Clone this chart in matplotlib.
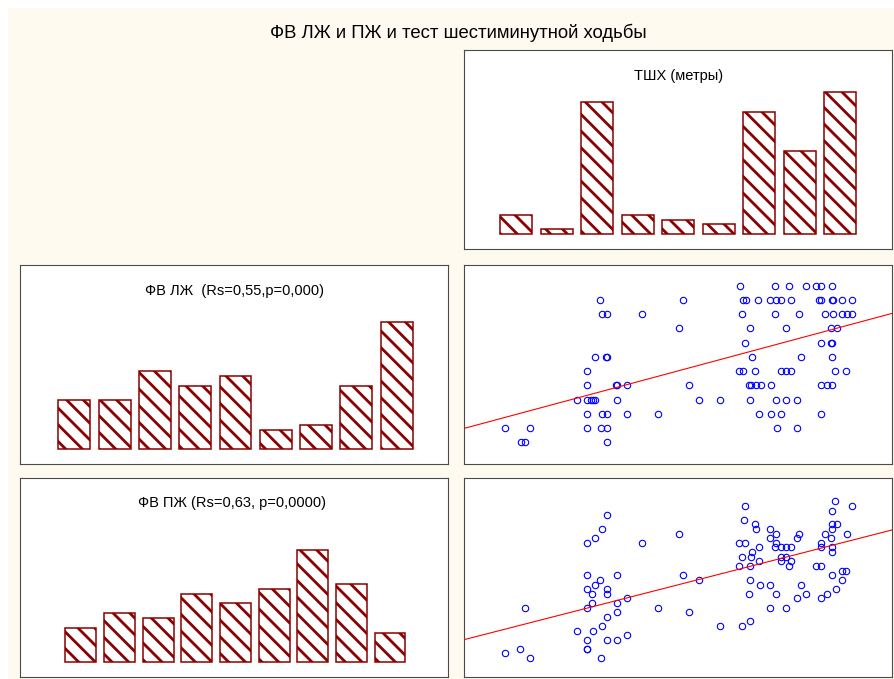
import matplotlib
matplotlib.use("Agg")
import matplotlib.pyplot as plt
import numpy as np
from matplotlib.patches import Rectangle

plt.rcParams['font.family'] = ['Liberation Sans', 'DejaVu Sans']
plt.rcParams['hatch.linewidth'] = 2.0

# histogram of the 6-minute walk test (metres), bin centres and counts
tshx_bins = [172, 213, 253, 294, 334, 375, 415, 456, 496]
tshx_counts = [4, 1, 27, 4, 3, 2, 25, 17, 29]

# histograms of LV / RV ejection fraction (counts per bin)
fv_lv_counts = [10, 10, 16, 13, 15, 4, 5, 13, 26]
fv_pv_counts = [7, 10, 9, 14, 12, 15, 23, 16, 6]

# scatter: 6MWT vs LV EF
tshx_lv = [396, 431, 445, 462, 472, 477, 488,
           256, 339, 399, 402, 414, 426, 432, 437, 447, 475, 477, 488, 489, 498, 508,
           258, 263, 298, 398, 431, 455, 481, 489, 498, 503, 508,
           335, 406, 442, 487, 493,
           401, 477, 487, 488,
           251, 262, 263, 408, 457, 488,
           243, 395, 399, 411, 437, 442, 447, 491, 502,
           243, 272, 273, 283, 345, 405, 407, 412, 417, 427, 477, 483, 488,
           233, 243, 247, 249, 251, 273, 355, 376, 406, 432, 442, 453,
           243, 258, 263, 283, 314, 415, 427, 437, 477,
           161, 186, 243, 257, 263, 433, 453,
           177, 181, 263]
fv_lv = [70, 70, 70, 70, 70, 70, 70,
         65, 65, 65, 65, 65, 65, 65, 65, 65, 65, 65, 65, 65, 65, 65,
         60, 60, 60, 60, 60, 60, 60, 60, 60, 60, 60,
         55, 55, 55, 55, 55,
         50, 50, 50, 50,
         45, 45, 45, 45, 45, 45,
         40, 40, 40, 40, 40, 40, 40, 40, 40,
         35, 35, 35, 35, 35, 35, 35, 35, 35, 35, 35, 35, 35,
         30, 30, 30, 30, 30, 30, 30, 30, 30, 30, 30, 30,
         25, 25, 25, 25, 25, 25, 25, 25, 25,
         20, 20, 20, 20, 20, 20, 20,
         15, 15, 15]
fit_lv = (0.0944, 8.57)  # slope, intercept

# scatter: 6MWT vs RV EF
tshx_pv = [263, 258, 251, 243, 298, 335, 401, 400, 411, 412, 426, 432, 426, 432,
           455, 453, 491, 488, 508, 488, 493, 488, 481, 503, 487, 477, 477, 488,
           488, 395, 401, 415, 431, 437, 442, 447, 398, 407, 408, 437, 442, 415,
           437, 447, 445, 395, 406, 472, 477, 243, 273, 256, 251, 243, 263, 248,
           263, 339, 355, 488, 498, 502, 498, 406, 416, 426, 457, 492, 405, 432,
           453, 462, 483, 477, 283, 273, 248, 243, 273, 263, 258, 249, 233, 283,
           263, 273, 243, 243, 243, 257, 181, 161, 176, 186, 314, 345, 376, 398,
           406, 426, 442]
fv_pv = [59.0, 54.7, 52.0, 50.5, 50.5, 53.3, 61.6, 57.4, 56.2, 54.7, 54.7, 53.3, 52.0, 50.6,
         53.3, 52.0, 63.0, 60.2, 61.6, 56.2, 56.2, 54.7, 53.3, 53.3, 52.0, 50.6, 49.2, 49.2,
         47.8, 50.6, 50.6, 49.2, 49.2, 49.2, 49.2, 49.2, 46.4, 46.4, 47.8, 46.4, 46.4, 45.0,
         45.0, 45.0, 43.6, 43.6, 43.6, 43.6, 43.6, 40.8, 40.8, 39.5, 38.0, 36.7, 36.7, 35.3,
         35.3, 40.8, 39.5, 40.8, 42.2, 42.2, 39.5, 39.5, 38.0, 38.0, 38.0, 36.7, 35.3, 35.3,
         34.0, 35.3, 35.3, 34.0, 34.0, 32.6, 32.6, 31.1, 29.8, 28.4, 25.6, 24.2, 24.2, 23.0,
         21.4, 21.4, 21.4, 18.8, 18.6, 16.0, 31.1, 17.4, 18.7, 16.0, 31.1, 29.8, 25.6, 25.6,
         27.0, 31.1, 31.1]
fit_pv = (0.0769, 12.27)

title = 'ФВ ЛЖ и ПЖ и тест шестиминутной ходьбы'
title_tshx = 'ТШХ (метры)'
title_lv = 'ФВ ЛЖ  (Rs=0,55,p=0,000)'
title_pv = 'ФВ ПЖ (Rs=0,63, p=0,0000)'

bar_edge = '#8b0000'
frame = '#4a4a4a'

W, H = 894, 679
fig = plt.figure(figsize=(W / 100, H / 100), dpi=100)
fig.patch.set_facecolor('white')
fig.patches.append(Rectangle((8 / W, 0), 1, (H - 8) / H, transform=fig.transFigure,
                             facecolor='#fffaf0', edgecolor='none', zorder=-10))


def panel(x0, y0):
    # x0, y0 = top-left pixel corner of a 428x199 panel
    ax = fig.add_axes([x0 / W, (H - y0 - 199) / H, 428 / W, 199 / H])
    ax.set_facecolor('white')
    ax.set_xticks([])
    ax.set_yticks([])
    for s in ax.spines.values():
        s.set_color(frame)
        s.set_linewidth(0.8)
    return ax


def hatched(ax, pos, counts, width):
    ax.bar(pos, counts, width=width, bottom=0, color='white', edgecolor=bar_edge,
           hatch='\\\\', linewidth=1.1)
    ax.set_ylim(-3, 37.6)


# top histogram
ax1 = panel(464, 50)
hatched(ax1, tshx_bins, tshx_counts, 32)
ax1.set_xlim(120, 548)
ax1.text(0.502, 0.87, title_tshx, transform=ax1.transAxes, ha='center', va='center', fontsize=10.5)

# LV histogram
ax2 = panel(20, 265)
hatched(ax2, np.arange(len(fv_lv_counts)), fv_lv_counts, 0.79)
ax2.set_xlim(-1.347, 9.273)
ax2.text(0.502, 0.87, title_lv, transform=ax2.transAxes, ha='center', va='center', fontsize=10.5)

# RV histogram
ax3 = panel(20, 478)
hatched(ax3, np.arange(len(fv_pv_counts)), fv_pv_counts, 0.80)
ax3.set_xlim(-1.573, 9.5)
ax3.text(0.496, 0.874, title_pv, transform=ax3.transAxes, ha='center', va='center', fontsize=10.5)

# scatter LV
ax4 = panel(464, 265)
ax4.plot(tshx_lv, fv_lv, 'o', mfc='none', mec='#0000ff', ms=4.6, mew=0.8)
xs = np.array([120, 548])
ax4.plot(xs, fit_lv[0] * xs + fit_lv[1], color='red', lw=0.8)
ax4.set_xlim(120, 548)
ax4.set_ylim(7.4, 77.3)

# scatter RV
ax5 = panel(464, 478)
ax5.plot(tshx_pv, fv_pv, 'o', mfc='none', mec='#0000ff', ms=4.6, mew=0.8)
ax5.plot(xs, fit_pv[0] * xs + fit_pv[1], color='red', lw=0.8)
ax5.set_xlim(120, 548)
ax5.set_ylim(10.3, 70)

fig.text(458 / W, 1 - 33 / H, title, ha='center', va='center', fontsize=13.3)

fig.savefig('out.png', dpi=100)
